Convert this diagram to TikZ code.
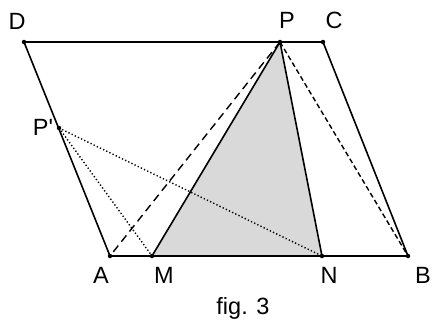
\documentclass[tikz,border=0pt]{standalone}
\usepackage{fontspec}
\newfontfamily\lblfont{Liberation Sans}
\begin{document}
\begin{tikzpicture}[x=1pt,y=-1pt,
  seg/.style={line width=1.6pt},
  dash1/.style={line width=1.4pt,dash pattern=on 8pt off 5pt},
  dash2/.style={line width=1.4pt,dash pattern=on 5pt off 3pt},
  dots/.style={line width=1.4pt,dash pattern=on 1.3pt off 2.2pt},
  lbl/.style={font=\lblfont\fontsize{23.5}{26}\selectfont,anchor=base,inner sep=0pt},
  pt/.style={circle,fill=black,inner sep=0pt,minimum size=4.5pt}]
\useasboundingbox (0,0) rectangle (432,322);
\coordinate (D) at (24,42);
\coordinate (C) at (323,42);
\coordinate (P) at (280,42);
\coordinate (A) at (110,256);
\coordinate (B) at (408,256);
\coordinate (M) at (152,256);
\coordinate (N) at (322,256);
\coordinate (Q) at (59,128);
\fill[gray!30] (P) -- (M) -- (N) -- cycle;
\draw[seg] (D) -- (C) -- (B) -- (A) -- cycle;
\draw[seg] (M) -- (P) -- (N);
\draw[dash1] (P) -- (A);
\draw[dash2] (P) -- (B);
\draw[dots] (Q) -- (M);
\draw[dots] (Q) -- (N);
\foreach \p in {D,C,P,A,B,M,N,Q} \node[pt] at (\p) {};
\node[lbl] (lD) at (17,29) {D};
\node[lbl] (lP) at (287,28) {P};
\node[lbl] (lC) at (334,28) {C};
\node[lbl] (lQ) at (43,135) {P'};
\node[lbl] (lA) at (101,283) {A};
\node[lbl] (lM) at (164,283) {M};
\node[lbl] (lN) at (329,283) {N};
\node[lbl] (lB) at (423,283) {B};
\node[lbl] (lf) at (243,314) {fig. 3};
\end{tikzpicture}
\end{document}
